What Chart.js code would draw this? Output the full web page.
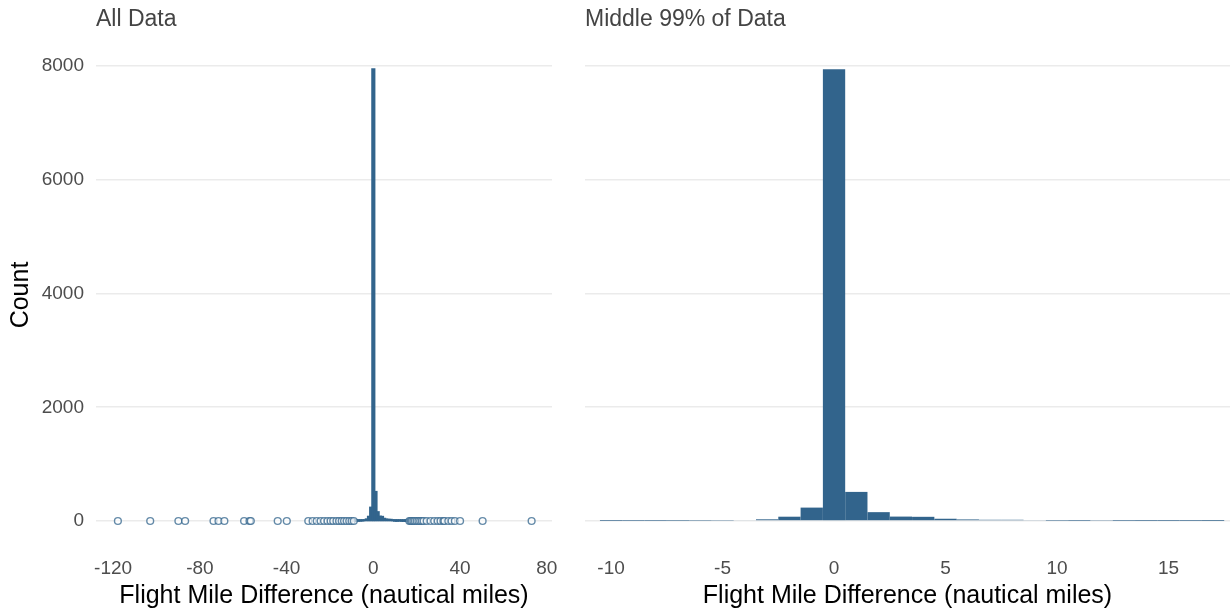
<!DOCTYPE html>
<html><head><meta charset="utf-8">
<script src="https://cdn.jsdelivr.net/npm/chart.js@4.4.1/dist/chart.umd.min.js"></script>
<style>
html,body{margin:0;padding:0;background:#fff;width:1231px;height:613px;overflow:hidden}
#c1{position:absolute;left:0;top:0}
#c2{position:absolute;left:565px;top:0}
</style></head><body>
<canvas id="c1" width="565" height="613"></canvas>
<canvas id="c2" width="666" height="613"></canvas>
<script>
// ---- data ----
const panelTitles = ['All Data', 'Middle 99% of Data'];
const xAxisTitle = 'Flight Mile Difference (nautical miles)';
const yAxisTitle = 'Count';
const binCenters = [-10,-9,-8,-7,-6,-5,-4,-3,-2,-1,0,1,2,3,4,5,6,7,8,9,10,11,12,13,14,15,16,17];
const binCounts  = [2,3,3,4,6,8,15,30,76,236,7945,512,156,78,74,40,28,22,22,12,5,3,9,3,2,2,2,1];
const outlierValues = [-117.8,-102.9,-89.9,-86.8,-73.7,-71.4,-68.7,-59.6,-57.1,-56.5,-44.1,-39.9,
  -30,-28,-26.1,-24.3,-22.7,-21.1,-19.7,-18.5,-17,-15.8,-14.6,-13.5,-12.3,-11.1,-10,-9,
  16.6,17.2,17.8,18.5,19.2,20,20.8,21.6,22.4,23.2,24.6,26.4,28.1,29.7,31,32.3,32.8,34.6,36.1,37.6,40,50.4,73];
const leftXTicks = [-120,-80,-40,0,40,80];
const rightXTicks = [-10,-5,0,5,10,15];
const yTicks = [0,2000,4000,6000,8000];

// ---- style ----
const FONT = '"Liberation Sans", Arial, Helvetica, sans-serif';
Chart.defaults.font.family = FONT;
const BAR = '#32648C';
const TICK = '#4D4D4D';
const GRID = '#EBEBEB';

const panelTitle = {
  id: 'panelTitle',
  afterDraw(chart, args, opts) {
    const ctx = chart.ctx;
    ctx.save();
    ctx.font = '23px ' + FONT;
    ctx.fillStyle = '#444444';
    ctx.textBaseline = 'middle';
    ctx.textAlign = 'left';
    ctx.fillText(opts.text, chart.chartArea.left, 20);
    ctx.restore();
  }
};

function histData() { return binCenters.map((x, i) => ({x: x, y: binCounts[i]})); }

function makeConfig(opts) {
  const datasets = [];
  if (opts.outliers) {
    datasets.push({
      type: 'scatter',
      data: opts.outliers.map(v => ({x: v, y: 0})),
      pointRadius: 3.4, pointHoverRadius: 3.4, pointBorderWidth: 1.4,
      borderColor: 'rgba(50,100,140,0.75)', backgroundColor: 'rgba(255,255,255,0.6)'
    });
  }
  datasets.push({
    type: 'bar', data: histData(), backgroundColor: BAR, borderWidth: 0, inflateAmount: opts.inflate,
    barPercentage: 1, categoryPercentage: 1
  });
  return {
    type: 'bar',
    data: {datasets},
    plugins: [panelTitle],
    options: {
      responsive: false, animation: false, events: [],
      layout: {padding: opts.padding},
      plugins: {legend: {display: false}, tooltip: {enabled: false}, panelTitle: {text: opts.title}},
      scales: {
        x: {
          type: 'linear', min: opts.xmin, max: opts.xmax, offset: false,
          grid: {display: false, offset: false}, border: {display: false},
          afterBuildTicks: s => { s.ticks = opts.xticks.map(v => ({value: v})); },
          afterFit: s => { s.height = 69; },
          ticks: {color: TICK, font: {size: 19}, padding: 5, maxRotation: 0, autoSkip: false,
                  callback: v => String(v)},
          title: {display: true, text: xAxisTitle, color: '#000', font: {size: 25}, padding: {top: 0, bottom: 2}}
        },
        y: {
          type: 'linear', min: -404, max: 8352,
          grid: {color: GRID, lineWidth: 1.6, drawTicks: false}, border: {display: false},
          afterBuildTicks: s => { s.ticks = yTicks.map(v => ({value: v})); },
          afterFit: s => { s.width = opts.yWidth; },
          ticks: {display: opts.showY, color: TICK, font: {size: 19}, padding: 12,
                  callback: v => String(v)},
          title: {display: opts.showY, text: yAxisTitle, color: '#000', font: {size: 25}, padding: {top: 6, bottom: 0}}
        }
      }
    }
  };
}

new Chart(document.getElementById('c1'), makeConfig({
  title: panelTitles[0], outliers: outlierValues, xmin: -127.9, xmax: 82.4, xticks: leftXTicks,
  padding: {top: 46, right: 13, bottom: 0, left: 0}, yWidth: 96, showY: true, inflate: 1
}));
new Chart(document.getElementById('c2'), makeConfig({
  title: panelTitles[1], outliers: null, xmin: -11.17, xmax: 17.76, xticks: rightXTicks,
  padding: {top: 46, right: 1, bottom: 0, left: 20}, yWidth: 0, showY: false, inflate: 0
}));
</script>
</body></html>
